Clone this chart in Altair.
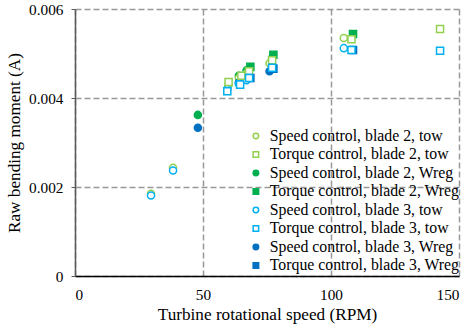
import altair as alt
import pandas as pd

# Series names, in legend order
series_names = [
    "Speed control, blade 2, tow",
    "Torque control, blade 2, tow",
    "Speed control, blade 2, Wreg",
    "Torque control, blade 2, Wreg",
    "Speed control, blade 3, tow",
    "Torque control, blade 3, tow",
    "Speed control, blade 3, Wreg",
    "Torque control, blade 3, Wreg",
]
stroke_colors = ["#92D050", "#92D050", "#00B050", "#00B050",
                 "#00B0F0", "#00B0F0", "#0070C0", "#0070C0"]
fill_colors = ["white", "white", "#00B050", "#00B050",
               "white", "white", "#0070C0", "#0070C0"]
shapes = ["circle", "square", "circle", "square",
          "circle", "square", "circle", "square"]

# Turbine rotational speed (RPM) and raw bending moment (A) per series
s2_tow_rpm = [29.7, 38.3, 60.0, 64.0, 67.0, 76.0, 105.0]
s2_tow_m = [0.00185, 0.00243, 0.00430, 0.00445, 0.00455, 0.00478, 0.00535]
t2_tow_rpm = [60.0, 65.0, 68.0, 77.0, 108.0, 142.6]
t2_tow_m = [0.00436, 0.00450, 0.00460, 0.00485, 0.00532, 0.00555]
s2_wreg_rpm = [48.0, 64.0, 67.0, 77.0]
s2_wreg_m = [0.00362, 0.00450, 0.00462, 0.00490]
t2_wreg_rpm = [68.5, 77.5, 108.6]
t2_wreg_m = [0.00470, 0.00497, 0.00544]
s3_tow_rpm = [29.7, 38.3, 59.5, 64.0, 67.0, 105.0]
s3_tow_m = [0.00181, 0.00237, 0.00420, 0.00432, 0.00440, 0.00512]
t3_tow_rpm = [59.5, 64.5, 68.0, 77.0, 108.0, 142.6]
t3_tow_m = [0.00415, 0.00430, 0.00445, 0.00468, 0.00508, 0.00506]
s3_wreg_rpm = [48.0, 64.0, 67.0, 76.0]
s3_wreg_m = [0.00333, 0.00435, 0.00442, 0.00460]
t3_wreg_rpm = [68.5, 77.5, 108.6]
t3_wreg_m = [0.00445, 0.00466, 0.00508]

all_rpm = [s2_tow_rpm, t2_tow_rpm, s2_wreg_rpm, t2_wreg_rpm,
           s3_tow_rpm, t3_tow_rpm, s3_wreg_rpm, t3_wreg_rpm]
all_m = [s2_tow_m, t2_tow_m, s2_wreg_m, t2_wreg_m,
         s3_tow_m, t3_tow_m, s3_wreg_m, t3_wreg_m]

rows = []
for name, xs, ys in zip(series_names, all_rpm, all_m):
    for x, y in zip(xs, ys):
        rows.append({"series": name, "rpm": x, "moment": y})
df = pd.DataFrame(rows)

FONT = "'Liberation Serif', 'Times New Roman', 'DejaVu Serif', serif"
legend_field = alt.Legend(title=None, orient="none", legendX=173, legendY=119)

points = alt.Chart(df).mark_point(size=50, strokeWidth=1.5, opacity=1).encode(
    x=alt.X("rpm:Q", title="Turbine rotational speed (RPM)",
            scale=alt.Scale(domain=[0, 150], nice=False),
            axis=alt.Axis(values=[0, 50, 100, 150], tickSize=0, labelPadding=11)),
    y=alt.Y("moment:Q", title="Raw bending moment (A)",
            scale=alt.Scale(domain=[0, 0.006], nice=False),
            axis=alt.Axis(values=[0, 0.002, 0.004, 0.006], tickSize=4,
                          labelPadding=8,
                          labelExpr="datum.value == 0 ? '0' : format(datum.value, '.3f')")),
    stroke=alt.Stroke("series:N", scale=alt.Scale(domain=series_names, range=stroke_colors),
                      legend=legend_field),
    fill=alt.Fill("series:N", scale=alt.Scale(domain=series_names, range=fill_colors),
                  legend=legend_field),
    shape=alt.Shape("series:N", scale=alt.Scale(domain=series_names, range=shapes),
                    legend=legend_field),
    order=alt.Order("series:N"),
)

chart = points.properties(
    width=384, height=267,
    padding={"left": 75, "top": 9, "right": 16, "bottom": 48},
    autosize=alt.AutoSizeParams(type="none"),
).configure(
    font=FONT
).configure_view(
    stroke=None
).configure_legend(
    labelFont=FONT, labelFontSize=15.8, labelColor="black",
    symbolSize=30, symbolStrokeWidth=1.5, rowPadding=1.5, labelOffset=6,
    labelLimit=300,
).configure_axis(
    labelFont=FONT, labelFontSize=15.3, labelColor="black",
    titleFont=FONT, titleFontSize=17.2, titleColor="black", titleFontWeight="normal",
    grid=True, gridColor="#999999", gridDash=[6, 3], gridWidth=1.5,
    domainWidth=1.5, tickColor="#595959",
).configure_axisX(
    domainColor="black", titlePadding=3,
).configure_axisY(
    domainColor="#595959", titlePadding=5,
)

chart.save("out.html", embed_options={"renderer": "svg", "actions": False})
